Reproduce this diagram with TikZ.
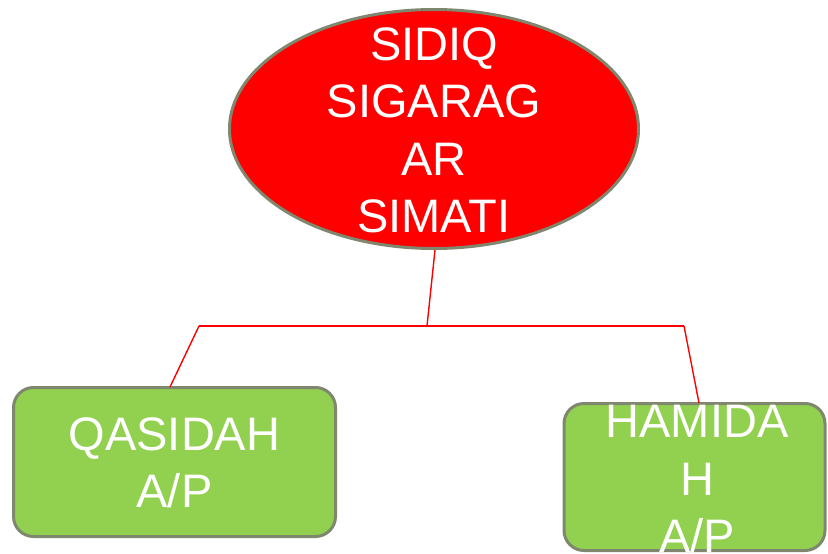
\documentclass[tikz,border=0pt]{standalone}
\usepackage{fontspec}
\setmainfont{Liberation Sans}
\usetikzlibrary{shapes.geometric}
\definecolor{bordergray}{RGB}{127,135,110}
\definecolor{leafgreen}{RGB}{146,208,80}
\definecolor{pureRed}{RGB}{255,0,0}
\tikzset{
  rootshape/.style={ellipse, draw=bordergray, line width=3pt, fill=pureRed, inner sep=0pt,
    minimum width=409pt, minimum height=239pt},
  leafshape/.style={rectangle, rounded corners=20pt, draw=bordergray, line width=3pt, fill=leafgreen, inner sep=0pt},
  bigtext/.style={align=center, text=white, inner sep=0pt, font=\fontsize{47}{57.5}\selectfont},
  link/.style={draw=pureRed, line width=1.4pt}
}
\begin{document}
\begin{tikzpicture}[x=1pt,y=-1pt]
\useasboundingbox (0,0) rectangle (828,554);
\clip (0,0) rectangle (828,554);
\node[rootshape] (root) at (434,129) {};
\node[bigtext] (roottext) at (434,130.5) {SIDIQ\\SIGARAG\\AR\\SIMATI};
\node[leafshape, minimum width=322pt, minimum height=149pt] (left) at (174.5,462) {};
\node[bigtext] (lefttext) at (174.5,463) {QASIDAH\\A/P};
\node[leafshape, minimum width=261pt, minimum height=147pt] (right) at (694.5,477) {};
\node[bigtext] (righttext) at (697,479.5) {HAMIDA\\H\\A/P};
\coordinate (joint) at (427,326);
\coordinate (jl) at (199,326);
\coordinate (jr) at (684,326);
\draw[link] ([xshift=1pt]root.south) -- (joint);
\draw[link] (jl) -- (jr);
\draw[link] (jl) -- ([xshift=-4.5pt,yshift=-1pt]left.north);
\draw[link] (jr) -- ([xshift=4.5pt,yshift=-1pt]right.north);
\end{tikzpicture}
\end{document}
